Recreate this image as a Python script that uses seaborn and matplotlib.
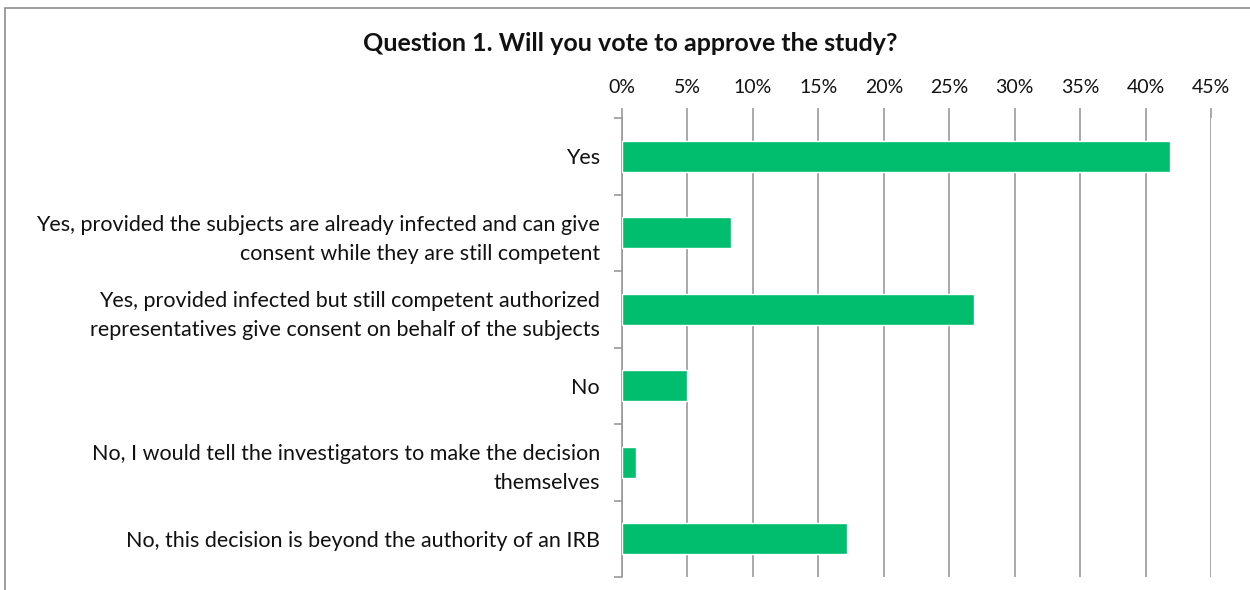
import matplotlib
matplotlib.use("Agg")
import matplotlib.pyplot as plt
import matplotlib.ticker as mticker
from matplotlib.patches import Rectangle
import seaborn as sns
import pandas as pd

categories = [
    "Yes",
    "Yes, provided the subjects are already infected and can give\nconsent while they are still competent",
    "Yes, provided infected but still competent authorized\nrepresentatives give consent on behalf of the subjects",
    "No",
    "No, I would tell the investigators to make the decision\nthemselves",
    "No, this decision is beyond the authority of an IRB",
]
shares = [0.419, 0.083, 0.269, 0.050, 0.011, 0.172]
x_ticks = [0.0, 0.05, 0.10, 0.15, 0.20, 0.25, 0.30, 0.35, 0.40, 0.45]

sns.set_theme(style="white")
plt.rcParams["font.family"] = ["Lato", "DejaVu Sans"]

df = pd.DataFrame({"answer": categories, "share": shares})

fig = plt.figure(figsize=(12.5, 5.9), dpi=100)
ax = fig.add_axes([0.4976, 0.022, 0.4712, 0.778])

sns.barplot(data=df, x="share", y="answer", orient="h", color="#00BE6E",
            saturation=1, width=0.4, ax=ax, zorder=3)

ax.set_xlim(0, 0.45)
ax.set_ylim(len(categories) - 0.5, -0.5)
ax.xaxis.tick_top()
ax.set_xticks(x_ticks)
ax.xaxis.set_major_formatter(mticker.FuncFormatter(lambda v, p: f"{v*100:.0f}%"))
ax.tick_params(axis="x", top=True, direction="out", length=7, width=1.2,
               color="#999999", labelsize=14, pad=9, labelcolor="#111111")
ax.grid(axis="x", color="#999999", linewidth=1.2, zorder=0)
ax.set_xlabel("")
ax.set_ylabel("")

# category labels at centres, boundary ticks on the left spine
ax.tick_params(axis="y", which="major", length=0, pad=16, labelsize=15.5,
               labelcolor="#111111")
for lbl in ax.get_yticklabels():
    lbl.set_horizontalalignment("right")
    lbl.set_multialignment("right")
    lbl.set_linespacing(1.55)
ax.set_yticks([i - 0.5 for i in range(len(categories) + 1)], minor=True)
ax.tick_params(axis="y", which="minor", left=True, direction="out", length=6,
               width=1.2, color="#999999")

for side in ("top", "right", "bottom"):
    ax.spines[side].set_visible(False)
ax.spines["left"].set_color("#999999")
ax.spines["left"].set_linewidth(1.2)

fig.text(0.504, 0.927, "Question 1. Will you vote to approve the study?",
         ha="center", va="center", fontsize=18, fontweight="bold", color="#111111")

# chart frame
fig.patches.append(Rectangle((0.004, -0.05), 1.2, 1.036, transform=fig.transFigure,
                             fill=False, edgecolor="#8c8c8c", linewidth=1.2))

fig.savefig("out.png", dpi=100)
